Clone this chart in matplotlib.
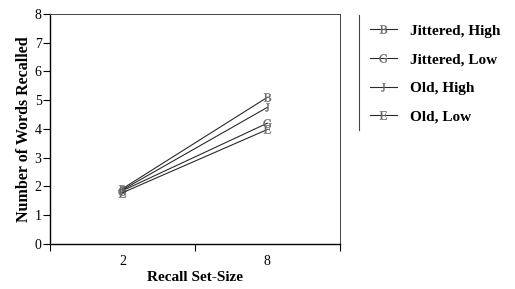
import matplotlib
matplotlib.use("Agg")
import matplotlib.pyplot as plt
from matplotlib.lines import Line2D

plt.rcParams["font.family"] = ["Liberation Serif", "DejaVu Serif"]
plt.rcParams["mathtext.fontset"] = "stix"

set_sizes = ["2", "8"]
series_names = ["Jittered, High", "Jittered, Low", "Old, High", "Old, Low"]
series_letters = ["B", "G", "J", "E"]
jittered_high = [1.92, 5.10]
jittered_low = [1.85, 4.20]
old_high = [1.88, 4.75]
old_low = [1.78, 3.98]
values = [jittered_high, jittered_low, old_high, old_low]

fig = plt.figure(figsize=(5.15, 2.89), dpi=100)
ax = fig.add_axes([0.097, 0.156, 0.563, 0.796])

xpos = [0.5, 1.5]
handles = []
for name, letter, vals in zip(series_names, series_letters, values):
    (h,) = ax.plot(xpos, vals, color="#2a2a2a", lw=0.8,
                   marker=r"$\mathrm{%s}$" % letter, markersize=6,
                   markeredgewidth=0.2, markerfacecolor="#6a6a6a",
                   markeredgecolor="#6a6a6a", label=name)
    handles.append(h)

ax.set_xlim(0, 2)
ax.set_ylim(0, 8)
ax.set_yticks(range(0, 9))
ax.set_xticks([0, 1, 2])
ax.set_xticklabels([])
ax.set_xticks(xpos, minor=True)
ax.set_xticklabels(set_sizes, minor=True)
ax.tick_params(axis="x", which="minor", length=0, pad=8, labelsize=10)
ax.tick_params(axis="x", which="major", length=5, width=0.8, direction="out")
ax.tick_params(axis="y", length=5, width=0.8, labelsize=10, pad=1)
for s in ["left", "bottom"]:
    ax.spines[s].set_linewidth(1.0)
for s in ["top", "right"]:
    ax.spines[s].set_linewidth(0.7)
    ax.spines[s].set_color("#444444")

ax.set_xlabel("Recall Set-Size", fontsize=11, fontweight="bold", labelpad=2)
ax.set_ylabel("Number of Words Recalled", fontsize=11.5, fontweight="bold", labelpad=2)

fig.legend(handles=handles, loc="upper left", bbox_to_anchor=(0.691, 0.965),
           frameon=False, handlelength=1.8, handletextpad=0.85, labelspacing=0.98,
           prop={"weight": "bold", "size": 11})
fig.add_artist(Line2D([0.697, 0.697], [0.55, 0.948], color="#444444", lw=0.8))

fig.savefig("out.png", dpi=100)
